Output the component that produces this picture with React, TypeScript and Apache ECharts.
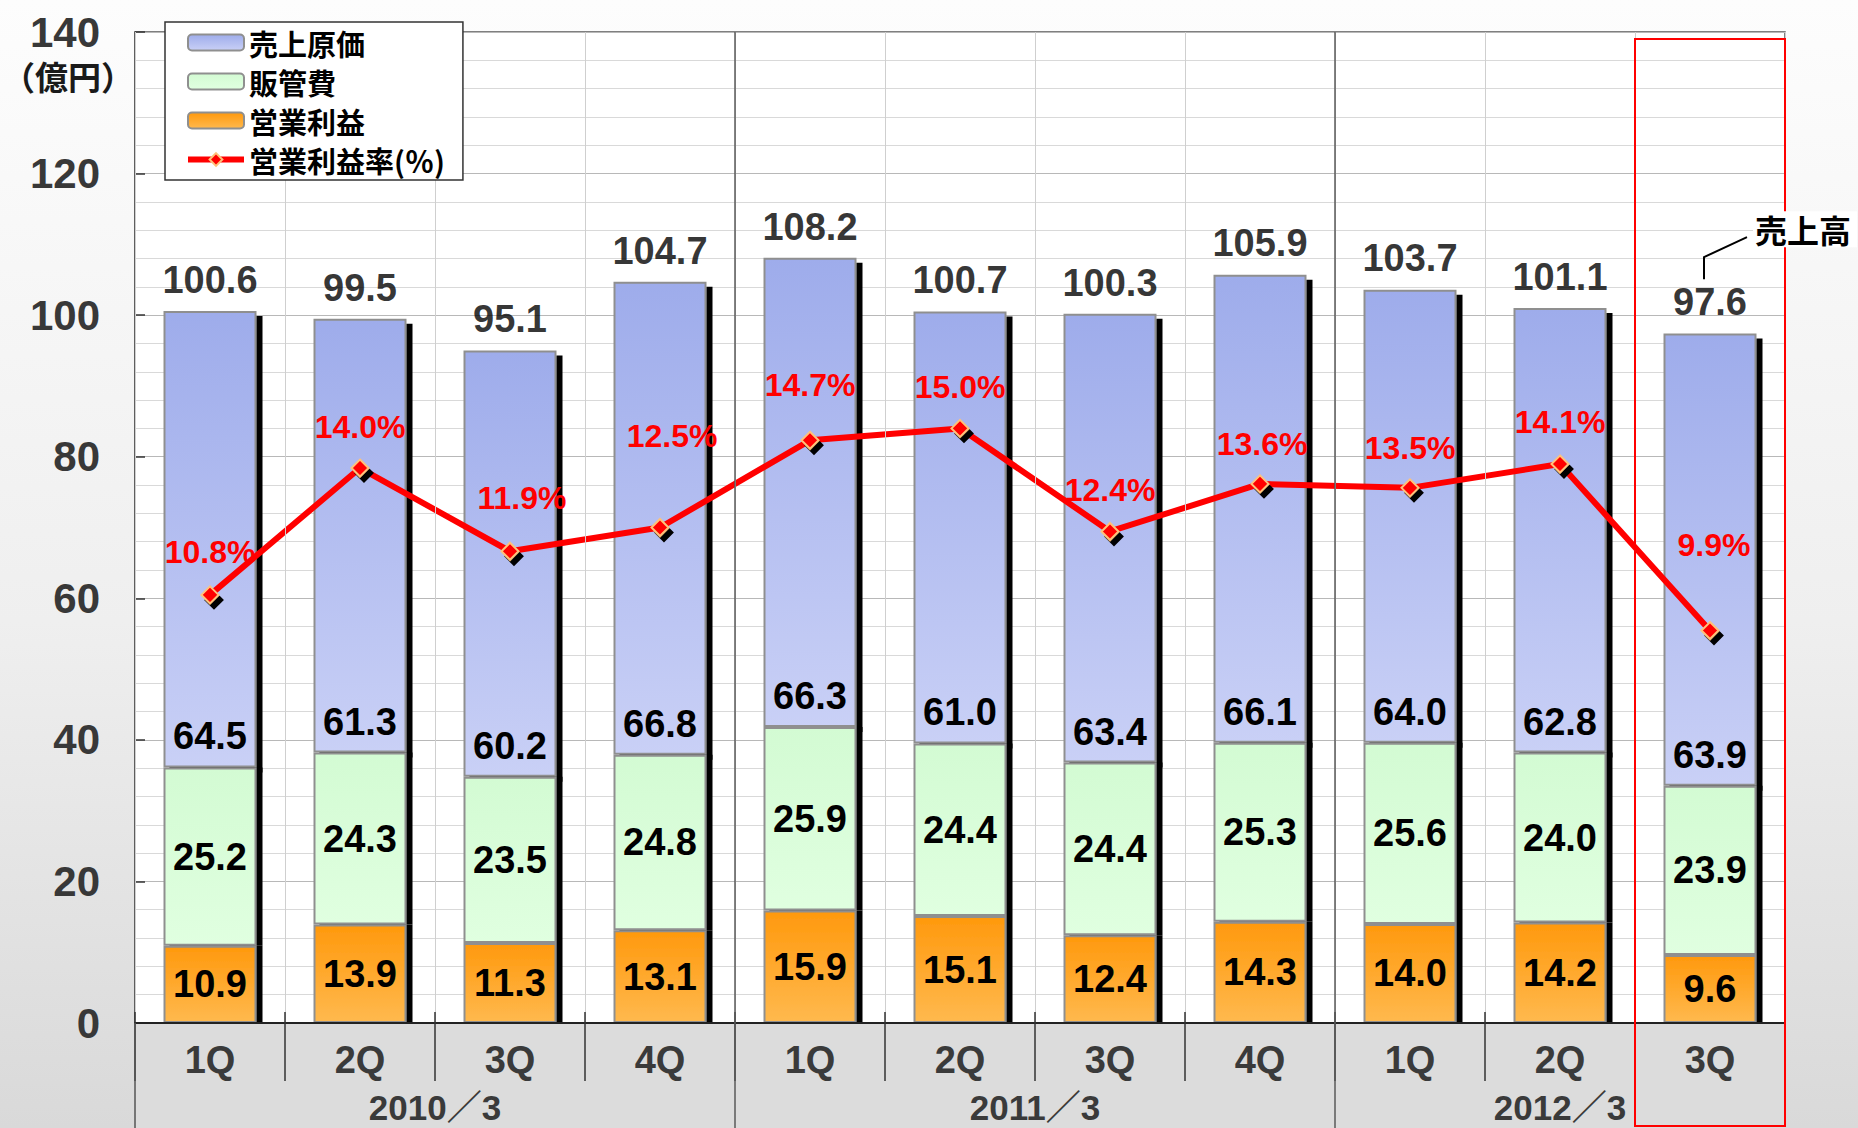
import React, { useEffect, useRef } from "react";
import * as echarts from "echarts";

// ---------- data ----------
const quarters = ["1Q", "2Q", "3Q", "4Q", "1Q", "2Q", "3Q", "4Q", "1Q", "2Q", "3Q"];
const fiscalYears = ["2010／3", "2011／3", "2012／3"];
const quartersPerYear = [4, 4, 3];
const costOfSales = [64.5, 61.3, 60.2, 66.8, 66.3, 61.0, 63.4, 66.1, 64.0, 62.8, 63.9];
const sgaExpenses = [25.2, 24.3, 23.5, 24.8, 25.9, 24.4, 24.4, 25.3, 25.6, 24.0, 23.9];
const operatingProfit = [10.9, 13.9, 11.3, 13.1, 15.9, 15.1, 12.4, 14.3, 14.0, 14.2, 9.6];
const netSales = [100.6, 99.5, 95.1, 104.7, 108.2, 100.7, 100.3, 105.9, 103.7, 101.1, 97.6];
const operatingMargin = [10.8, 14.0, 11.9, 12.5, 14.7, 15.0, 12.4, 13.6, 13.5, 14.1, 9.9];
const yMin = 0;
const yMax = 140;
const yInterval = 20;
const marginAxisMax = 25;

const NAME_COST = "売上原価";
const NAME_SGA = "販管費";
const NAME_OP = "営業利益";
const NAME_MARGIN = "営業利益率(％)";

// label placement tweaks (style, not data)
const marginLabelLift = [12, 11, 23, 61, 25, 11, 11, 9, 9, 12, 55];
const marginLabelShift = [0, 0, 12, 12, 0, 0, 0, 2, 0, 0, 4];

const FONT = "'Liberation Sans', Arial, 'Noto Sans CJK JP', sans-serif";
const CJK = "'Noto Sans CJK JP', 'Liberation Sans', sans-serif";

export default function App() {
  const ref = useRef<HTMLDivElement>(null);

  useEffect(() => {
    if (!ref.current) return;
    const chart = echarts.init(ref.current, null, { renderer: "svg" });

    const grad = (a: string, b: string) =>
      new echarts.graphic.LinearGradient(0, 0, 0, 1, [
        { offset: 0, color: a },
        { offset: 1, color: b },
      ]);

    const numLabel = {
      show: true,
      color: "#000",
      fontSize: 38,
      fontWeight: "bold",
      fontFamily: FONT,
      formatter: (p: any) => Number(p.value).toFixed(1),
    };

    const barBase = {
      type: "bar",
      stack: "total",
      barWidth: "62%",
      xAxisIndex: 0,
      yAxisIndex: 0,
    };

    const shadow = { shadowColor: "#000", shadowOffsetX: 6, shadowOffsetY: 0, shadowBlur: 0 };

    chart.setOption({
      animation: false,
      textStyle: { fontFamily: FONT },
      grid: {
        left: 135,
        right: 73,
        top: 32,
        bottom: 105,
        show: true,
        backgroundColor: "#ffffff",
        borderColor: "#555",
        borderWidth: 1.5,
      },
      legend: {
        data: [
          { name: NAME_COST },
          { name: NAME_SGA },
          { name: NAME_OP },
          {
            name: NAME_MARGIN,
            lineStyle: { width: 6, color: "#ff0000" },
            itemStyle: { color: "#ff0000", borderColor: "#ffc27a", borderWidth: 2 },
          },
        ],
        orient: "vertical",
        left: 165,
        top: 22,
        padding: [6, 18, 6, 20],
        itemGap: 10,
        itemWidth: 56,
        itemHeight: 16,
        backgroundColor: "#fff",
        borderColor: "#333",
        borderWidth: 1.5,
        z: 20,
        itemStyle: { shadowColor: "transparent", shadowBlur: 0, shadowOffsetX: 0, shadowOffsetY: 0 },
        textStyle: { fontSize: 29, fontWeight: "bold", color: "#000", fontFamily: CJK, lineHeight: 28 },
      },
      xAxis: [
        {
          type: "category",
          data: quarters,
          z: 10,
          axisLine: { lineStyle: { color: "#222", width: 2 } },
          axisTick: { show: true, length: 58, lineStyle: { color: "#333", width: 1.5 } },
          axisLabel: { fontSize: 38, fontWeight: "bold", color: "#3a3a3a", margin: 18, fontFamily: FONT },
          splitLine: { show: true, lineStyle: { color: "#cfcfcf", width: 1 } },
        },
        {
          type: "category",
          data: quarters,
          position: "bottom",
          z: 10,
          axisLine: { show: false },
          axisTick: { show: true, inside: true, length: 11, lineStyle: { color: "#333", width: 1.5 } },
          axisLabel: { show: false },
          splitLine: { show: false },
        },
      ],
      yAxis: [
        {
          type: "value",
          min: yMin,
          max: yMax,
          interval: yInterval,
          axisLine: { show: true, lineStyle: { color: "#555", width: 1.5 } },
          axisTick: { show: true, inside: true, length: 10, lineStyle: { color: "#333", width: 1.5 } },
          axisLabel: { fontSize: 42, fontWeight: "bold", color: "#383838", margin: 35, fontFamily: FONT },
          splitLine: { show: true, lineStyle: { color: "#b8b8b8", width: 1 } },
          minorTick: { show: false, splitNumber: 5 },
          minorSplitLine: { show: true, lineStyle: { color: "#d9d9d9", width: 1 } },
        },
        {
          type: "value",
          min: 0,
          max: marginAxisMax,
          show: false,
          splitLine: { show: false },
        },
      ],
      series: [
        {
          ...barBase,
          name: NAME_OP,
          z: 2,
          data: operatingProfit,
          itemStyle: { color: grad("#ff990d", "#ffb94e"), borderColor: "#8f8f8f", borderWidth: 2, ...shadow },
          label: { ...numLabel, position: "inside" },
        },
        {
          ...barBase,
          name: NAME_SGA,
          z: 2,
          data: sgaExpenses,
          itemStyle: { color: grad("#d3fbd3", "#e0ffe0"), borderColor: "#8f8f8f", borderWidth: 2, ...shadow },
          label: { ...numLabel, position: "inside" },
        },
        {
          ...barBase,
          name: NAME_COST,
          z: 1,
          data: costOfSales,
          itemStyle: {
            color: grad("#9eaceb", "#c9d0f6"),
            borderColor: "#8f8f8f",
            borderWidth: 2,
            ...shadow,
            shadowOffsetY: 5,
          },
          label: { ...numLabel, position: "insideBottom", distance: 12 },
        },
        {
          type: "scatter",
          name: "売上高",
          xAxisIndex: 0,
          yAxisIndex: 0,
          z: 4,
          data: netSales,
          symbolSize: 1,
          itemStyle: { color: "rgba(0,0,0,0)" },
          label: {
            show: true,
            position: "top",
            distance: 11,
            color: "#000",
            fontSize: 38,
            fontWeight: "bold",
            fontFamily: FONT,
            formatter: (p: any) => Number(p.value).toFixed(1),
          },
        },
        {
          type: "line",
          name: NAME_MARGIN,
          xAxisIndex: 0,
          yAxisIndex: 1,
          z: 5,
          data: operatingMargin.map((v, i) => ({
            value: v,
            label: { offset: [marginLabelShift[i], -marginLabelLift[i]] },
          })),
          symbol: "diamond",
          symbolSize: 17,
          lineStyle: { color: "#ff0000", width: 6 },
          itemStyle: {
            color: "#ff0000",
            borderColor: "#ffc27a",
            borderWidth: 2,
            shadowColor: "#000",
            shadowOffsetX: 4,
            shadowOffsetY: 5,
            shadowBlur: 0,
          },
          label: {
            show: true,
            position: "top",
            distance: 5,
            color: "#ff0000",
            fontSize: 32,
            fontWeight: "bold",
            fontFamily: FONT,
            formatter: (p: any) => Number(p.value).toFixed(1) + "%",
          },
        },
      ],
    });

    // ---------- decorations positioned through the axes ----------
    const cx = (i: number) => chart.convertToPixel({ xAxisIndex: 0 }, i) as number;
    const yPx = (v: number) => chart.convertToPixel({ yAxisIndex: 0 }, v) as number;
    const n = quarters.length;
    const half = (cx(1) - cx(0)) / 2;
    const left = cx(0) - half;
    const right = cx(n - 1) + half;
    const y0 = yPx(yMin);
    const yTop = yPx(yMax);
    const H = chart.getHeight();

    const elements: any[] = [];
    elements.push({
      type: "rect",
      z: 1,
      shape: { x: left, y: y0, width: right - left, height: H - y0 },
      style: { fill: "#dcdcdc" },
    });
    elements.push({
      type: "line",
      z: 11,
      shape: { x1: left, y1: y0, x2: left, y2: H },
      style: { stroke: "#555", lineWidth: 1.5 },
    });

    let start = 0;
    fiscalYears.forEach((fy, gi) => {
      const end = start + quartersPerYear[gi] - 1;
      if (gi > 0) {
        const bx = cx(start) - half;
        elements.push({
          type: "line",
          z: 11,
          shape: { x1: bx, y1: yTop, x2: bx, y2: H },
          style: { stroke: "#5a5a5a", lineWidth: 1.5 },
        });
      }
      elements.push({
        type: "text",
        z: 12,
        x: (cx(start) + cx(end)) / 2,
        y: y0 + 84,
        style: {
          text: fy,
          align: "center",
          verticalAlign: "middle",
          fontSize: 35,
          fontWeight: "bold",
          fontFamily: FONT,
          fill: "#3a3a3a",
        },
      });
      start = end + 1;
    });

    // highlight frame around the latest quarter
    const lx = cx(n - 1);
    elements.push({
      type: "rect",
      z: 30,
      shape: { x: lx - half, y: yTop + 7, width: half * 2, height: H - yTop - 9 },
      style: { fill: "none", stroke: "#ff0000", lineWidth: 2 },
    });

    // 売上高 callout
    const lc = yPx(netSales[n - 1]) - 30;
    elements.push({
      type: "polyline",
      z: 31,
      shape: {
        points: [
          [lx - 6, lc - 23],
          [lx - 6, lc - 45],
          [lx + 37, lc - 65],
        ],
      },
      style: { stroke: "#000", lineWidth: 2, fill: "none" },
    });
    elements.push({
      type: "text",
      z: 31,
      x: lx + 43,
      y: lc - 73,
      style: {
        text: "売上高",
        align: "left",
        verticalAlign: "middle",
        fontSize: 32,
        fontWeight: "bold",
        fontFamily: CJK,
        fill: "#000",
        backgroundColor: "#fff",
        padding: [2, 6, 2, 2],
      },
    });

    // unit label
    elements.push({
      type: "text",
      z: 12,
      x: 68,
      y: 76,
      style: {
        text: "（億円）",
        align: "center",
        verticalAlign: "middle",
        fontSize: 33,
        fontWeight: "bold",
        fontFamily: CJK,
        fill: "#1a1a1a",
      },
    });

    chart.setOption({ graphic: { elements } });

    return () => chart.dispose();
  }, []);

  return (
    <div
      ref={ref}
      style={{
        position: "fixed",
        left: 0,
        top: 0,
        width: 1858,
        height: 1128,
        background: "linear-gradient(180deg, #fdfdfd 0%, #efefef 55%, #d9d9d9 100%)",
      }}
    />
  );
}
